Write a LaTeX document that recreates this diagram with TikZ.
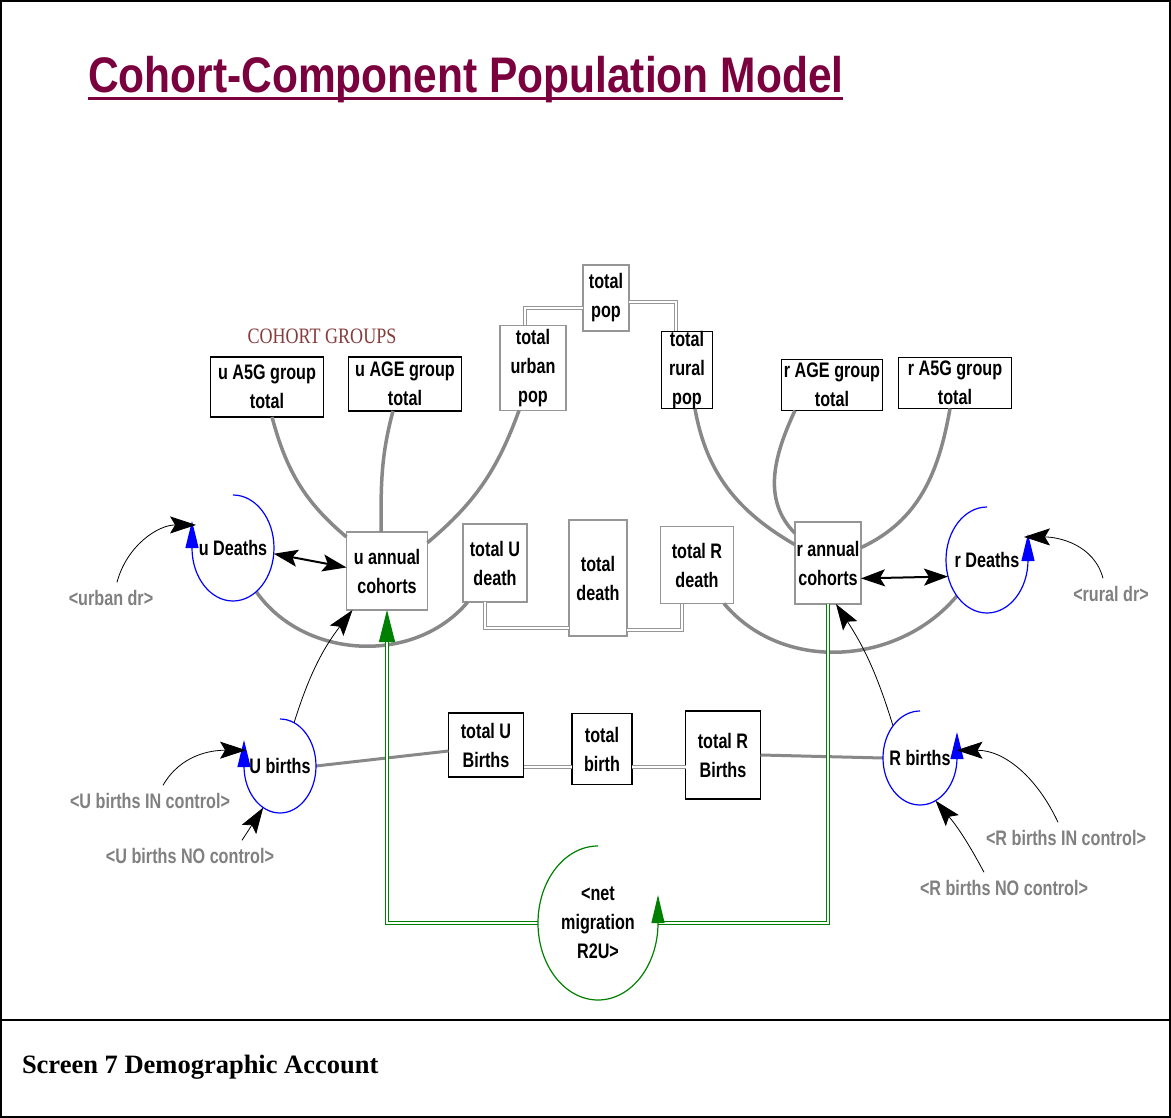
\documentclass[tikz,border=0pt]{standalone}
\usepackage{fontspec}
\setmainfont{Liberation Serif}
\newfontfamily\vfont[FakeStretch=0.77]{Liberation Sans}
\newfontfamily\titlefont[FakeStretch=0.85]{Liberation Sans}
\newfontfamily\grpfont[FakeStretch=0.82]{Liberation Serif}
\usetikzlibrary{arrows.meta, shapes.geometric}

\definecolor{titlecol}{RGB}{122,0,62}
\definecolor{grpcol}{RGB}{135,60,60}
\definecolor{boxgray}{RGB}{150,150,150}
\definecolor{linkgray}{RGB}{136,136,136}
\definecolor{dblgray}{RGB}{150,150,150}
\definecolor{shadowgray}{RGB}{128,128,128}
\definecolor{miggreen}{RGB}{0,128,0}

\begin{document}
\begin{tikzpicture}[x=1pt, y=1pt, thick,
	every node/.style={inner sep=0pt, outer sep=0pt},
	vtext/.style={font=\vfont\bfseries\fontsize{21}{29}\selectfont},
	box/.style={vtext, draw=black, line width=1.4pt, align=center},
	gbox/.style={box, draw=boxgray},
	rate/.style={ellipse, draw=none},
	shadow/.style={vtext, text=shadowgray},
	infl/.style={draw=linkgray, line width=3.5pt},
	flow/.style={draw=linkgray, line width=3pt},
	dbl/.style={draw=dblgray, double=white, double distance=2.5pt, line width=1pt},
	mig/.style={draw=miggreen, double=white, double distance=2.5pt, line width=1pt},
	info/.style={-{Stealth[length=26pt,width=17pt,inset=5pt]}, line width=0.8pt},
	both/.style={{Stealth[length=24pt,width=17pt,inset=5pt]}-{Stealth[length=24pt,width=17pt,inset=5pt]}, line width=2pt},
	loopb/.style={draw=blue, line width=1.2pt, -{Triangle[length=27pt,width=13pt]}},
	loopg/.style={draw=miggreen, line width=1.2pt, -{Triangle[length=28pt,width=13pt]}}]

	\useasboundingbox (0,0) rectangle (1171,-1118);
	\draw[line width=2pt] (1,-1) rectangle (1170,-1117);
	\draw[line width=2pt] (0,-1020) -- (1171,-1020);

	\node[anchor=base west, text=titlecol, font=\titlefont\bfseries\fontsize{50}{60}\selectfont] (title) at (88,-93) {Cohort-Component Population Model};
	\draw[titlecol, line width=3pt] ([yshift=-5.5pt]title.base west) -- ([yshift=-5.5pt]title.base east);
	\node[anchor=base west, font=\bfseries\fontsize{26.5}{32}\selectfont] (caption) at (22,-1073) {Screen 7 Demographic Account};
	\node[anchor=base, text=grpcol, font=\grpfont\fontsize{22}{26}\selectfont] (cohortGroups) at (322,-344) {COHORT GROUPS};

	\node[gbox, minimum width=46pt, minimum height=66pt] (totPop) at (606,-298) {total\\pop};
	\node[gbox, minimum width=66pt, minimum height=85pt] (totUrban) at (533,-368) {total\\urban\\pop};
	\node[box, minimum width=51pt, minimum height=77pt] (totRural) at (687,-370) {total\\rural\\pop};
	\node[box, minimum width=113pt, minimum height=60pt] (uA5G) at (267,-387) {u A5G group\\total};
	\node[box, minimum width=113pt, minimum height=54pt] (uAGE) at (405,-384) {u AGE group\\total};
	\node[box, minimum width=101pt, minimum height=51pt] (rAGE) at (832,-385) {r AGE group\\total};
	\node[box, minimum width=113pt, minimum height=51pt] (rA5G) at (955,-383) {r A5G group\\total};

	\node[gbox, minimum width=81pt, minimum height=78pt] (uAnnual) at (387,-571) {u annual\\cohorts};
	\node[gbox, minimum width=64pt, minimum height=78pt] (totUDeath) at (495,-563) {total U\\death};
	\node[gbox, minimum width=58pt, minimum height=116pt] (totDeath) at (598,-578) {total\\death};
	\node[gbox, minimum width=73pt, minimum height=77pt] (totRDeath) at (697,-565) {total R\\death};
	\node[gbox, minimum width=66pt, minimum height=82pt] (rAnnual) at (828,-563) {r annual\\cohorts};

	\node[box, minimum width=75pt, minimum height=64pt] (totUBirths) at (486,-745) {total U\\Births};
	\node[box, minimum width=60pt, minimum height=71pt] (totBirth) at (602,-749) {total\\birth};
	\node[box, minimum width=75pt, minimum height=88pt] (totRBirths) at (723,-755) {total R\\Births};

	\node[rate, minimum width=82pt, minimum height=106pt, label={[vtext]center:u Deaths}] (uDeaths) at (233,-548) {};
	\node[rate, minimum width=82pt, minimum height=106pt, label={[vtext]center:r Deaths}] (rDeaths) at (987,-560) {};
	\node[rate, minimum width=72pt, minimum height=94pt, label={[vtext]center:U births}] (uBirths) at (280,-766) {};
	\node[rate, minimum width=74pt, minimum height=94pt, label={[vtext]center:R births}] (rBirths) at (920,-758) {};
	\node[rate, minimum width=120pt, minimum height=154pt, label={[vtext, align=center]center:<net\\migration\\R2U>}] (netMig) at (598,-923) {};

	\node[shadow] (urbanDr) at (111,-598) {<urban dr>};
	\node[shadow] (ruralDr) at (1111,-594) {<rural dr>};
	\node[shadow] (uBirthsIn) at (150,-801) {<U births IN control>};
	\node[shadow] (uBirthsNo) at (190,-856) {<U births NO control>};
	\node[shadow] (rBirthsIn) at (1066,-838) {<R births IN control>};
	\node[shadow] (rBirthsNo) at (1004,-888) {<R births NO control>};

	\draw[dbl] ([yshift=-10pt]totPop.west) -| ([xshift=-8pt]totUrban.north);
	\draw[dbl] ([yshift=-4pt]totPop.east) -| ([xshift=-11pt]totRural.north);
	\draw[dbl] ([xshift=-10pt]totUDeath.south) |- ([yshift=-50pt]totDeath.west);
	\draw[dbl] ([yshift=-52pt]totDeath.east) -| ([xshift=-15pt]totRDeath.south);
	\draw[dbl] ([yshift=-22pt]totUBirths.east) -- ([yshift=-18pt]totBirth.west);
	\draw[dbl] ([yshift=-18pt]totBirth.east) -- ([yshift=-12pt]totRBirths.west);

	\draw[infl] ([xshift=5pt]uA5G.south) to[out=-75,in=140] (uAnnual.140);
	\draw[infl] ([xshift=-12pt]uAGE.south) to[out=-105,in=90] ([xshift=-6pt]uAnnual.north);
	\draw[infl] ([xshift=-14pt]totUrban.south) to[out=-110,in=40] (uAnnual.35);
	\draw[infl] (uDeaths.-62) to[out=-55,in=-130] (totUDeath.-125);
	\draw[infl] ([xshift=8pt]totRural.south) to[out=-80,in=150] (rAnnual.151);
	\draw[infl] ([xshift=-37pt]rAGE.south) to[out=-115,in=135] (rAnnual.138);
	\draw[infl] ([xshift=-5pt]rA5G.south) to[out=-100,in=25] (rAnnual.25);
	\draw[infl] (totRDeath.-55) to[out=-50,in=-130] (rDeaths.-130);

	\draw[flow] (uBirths.east) -- ([yshift=-6pt]totUBirths.west);
	\draw[flow] (totRBirths.east) -- (rBirths.west);

	\draw[mig, -{Triangle[length=32pt,width=16pt]}] (netMig.west) -| (uAnnual.south);
	\draw[mig] (rAnnual.south) |- (netMig.east);

	\draw[loopb] (uDeaths.north) arc[start angle=90, delta angle=-270, x radius=41pt, y radius=53pt] -- ++(0,27);
	\draw[loopb] (rDeaths.north) arc[start angle=90, delta angle=270, x radius=41pt, y radius=53pt] -- ++(0,26);
	\draw[loopb] (uBirths.north) arc[start angle=90, delta angle=-270, x radius=36pt, y radius=47pt] -- ++(0,26);
	\draw[loopb] (rBirths.north) arc[start angle=90, delta angle=270, x radius=37pt, y radius=47pt] -- ++(0,26);
	\draw[loopg] (netMig.north) arc[start angle=90, delta angle=270, x radius=60pt, y radius=77pt] -- ++(0,28);

	\draw[info] ([xshift=6pt,yshift=8pt]urbanDr.north) to[out=75,in=180] (uDeaths.148);
	\draw[info] ([xshift=-8pt,yshift=8pt]ruralDr.north) to[out=105,in=0] (rDeaths.32);
	\draw[both] (uDeaths.-8) -- (uAnnual.175);
	\draw[both] (rAnnual.-25) -- (rDeaths.-157);
	\draw[info] (uBirths.72) to[bend left=10] ([xshift=6pt]uAnnual.south west);
	\draw[info] (rBirths.130) to[bend right=8] ([xshift=8pt]rAnnual.south);
	\draw[info] ([xshift=13pt,yshift=8pt]uBirthsIn.north) to[out=60,in=180] (uBirths.155);
	\draw[info] ([xshift=52pt,yshift=8pt]uBirthsNo.north) -- (uBirths.-112);
	\draw[info] ([xshift=-8pt,yshift=8pt]rBirthsIn.north) to[out=115,in=0] (rBirths.12);
	\draw[info] ([xshift=-20pt,yshift=8pt]rBirthsNo.north) to[bend right=6] (rBirths.-70);

\end{tikzpicture}
\end{document}
